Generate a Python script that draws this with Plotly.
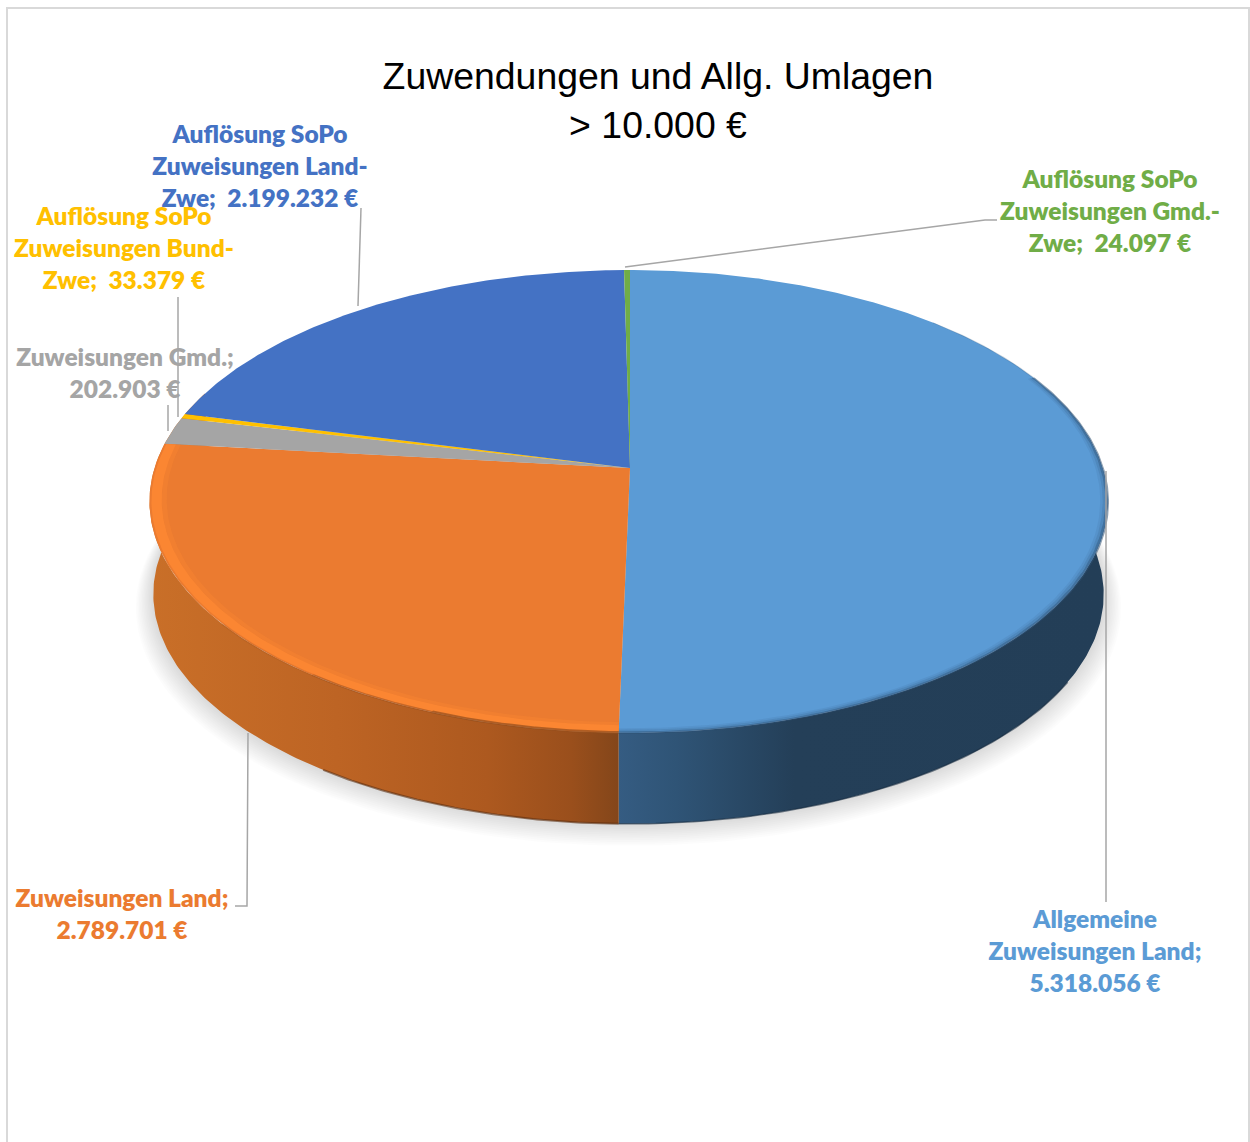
import numpy as np
import plotly.graph_objects as go

# ---- data ----
title_text = "Zuwendungen und Allg. Umlagen<br>> 10.000 €"
names = ["Allgemeine Zuweisungen Land", "Zuweisungen Land", "Zuweisungen Gmd.",
         "Auflösung SoPo Zuweisungen Bund-Zwe", "Auflösung SoPo Zuweisungen Land-Zwe",
         "Auflösung SoPo Zuweisungen Gmd.-Zwe"]
values = [5318056, 2789701, 202903, 33379, 2199232, 24097]
label_lines = [
    ["Allgemeine", "Zuweisungen Land;"],
    ["Zuweisungen Land;"],
    ["Zuweisungen Gmd.;"],
    ["Auflösung SoPo", "Zuweisungen Bund-", "Zwe;\u00a0"],
    ["Auflösung SoPo", "Zuweisungen Land-", "Zwe;\u00a0"],
    ["Auflösung SoPo", "Zuweisungen Gmd.-", "Zwe;\u00a0"],
]
colors = ["#5b9bd5", "#eb7b30", "#a5a5a5", "#ffc000", "#4472c4", "#70ad47"]

# ---- layout / projection settings ----
CX, CY, A, B, K = 630.0, 468.0, 474.0, -226.6, 0.1447
RIM_SHIFT = -1.5
DEPTH, BOTTOM_SCALE = 93.0, 0.992
label_pos = [(1095, 954), (122, 917), (125, 376), (124, 251), (260, 169), (1110, 214)]
leaders = [
    ([1106, 1106], [471, 902]),
    ([248, 247, 235], [733, 906, 906]),
    ([168, 168], [405, 431]),
    ([178, 178], [297, 417]),
    ([358, 361], [306, 208]),
    ([625, 985, 997], [267, 220, 220]),
]


def project(theta_deg, r=1.0, depth=0.0, scale=1.0):
    t = np.radians(np.asarray(theta_deg, dtype=float))
    x, y = r * np.sin(t), r * np.cos(t)
    d = 1 + K * y
    return CX + RIM_SHIFT * np.abs(x) + scale * A * x / d, CY + scale * B * y / d + depth


def arc(a0, a1, n=160, **kw):
    return project(np.linspace(a0, a1, n), **kw)


fig = go.Figure()


def poly(x, y, color=None, gradient=None, name=""):
    kw = dict(x=list(x), y=list(y), mode="lines", fill="toself", line=dict(width=0),
              hoverinfo="skip", showlegend=False, name=name)
    if gradient:
        kw["fillgradient"] = gradient
    else:
        kw["fillcolor"] = color
    fig.add_trace(go.Scatter(**kw))


def band(a0, a1, r0, r1, color):
    xo, yo = arc(a0, a1, r=r1)
    xi, yi = arc(a1, a0, r=r0)
    poly(np.r_[xo, xi], np.r_[yo, yi], color)


def wall(a0, a1, gradient):
    xt, yt = arc(a0, a1)
    xb, yb = arc(a1, a0, depth=DEPTH, scale=BOTTOM_SCALE)
    poly(np.r_[xt, xb], np.r_[yt, yb], gradient=gradient)


# slice angles, clockwise from twelve o'clock
total = sum(values)
edges = np.r_[0, np.cumsum(values)] / total * 360.0

# soft shadow under the pie
for i in range(12):
    x, y = arc(0, 360, n=240, r=1.003 + 0.003 * i, depth=DEPTH + 1 + 0.9 * i, scale=BOTTOM_SCALE)
    poly(x, y, "rgba(0,0,0,0.012)")

# side walls
wall(70, edges[1], dict(type="horizontal", start=618, stop=1107,
                        colorscale=[[0, "#355c82"], [0.12, "#2f5476"], [0.36, "#243f58"], [1, "#233e57"]]))
wall(edges[1], edges[2] + 14, dict(type="horizontal", start=150, stop=618,
                                   colorscale=[[0, "#c96f28"], [0.4, "#bd6424"], [0.72, "#ad591f"],
                                               [0.9, "#9a4f1c"], [1, "#84461a"]]))
xb, yb = arc(edges[1], 215, n=80, depth=DEPTH, scale=BOTTOM_SCALE)
fig.add_trace(go.Scatter(x=xb, y=yb, mode="lines", line=dict(color="rgba(90,45,15,0.6)", width=2),
                         hoverinfo="skip", showlegend=False))
xb, yb = arc(120, edges[1], n=80, depth=DEPTH, scale=BOTTOM_SCALE)
fig.add_trace(go.Scatter(x=xb, y=yb, mode="lines", line=dict(color="rgba(25,45,65,0.6)", width=1.5),
                         hoverinfo="skip", showlegend=False))

# top faces
for i, name in enumerate(names):
    xa, ya = arc(edges[i], edges[i + 1], n=max(8, int((edges[i + 1] - edges[i]) * 2)))
    poly(np.r_[CX, xa], np.r_[CY, ya], colors[i], name=name)

# bevel
band(edges[1], edges[2], 0.965, 0.975, "rgba(251,134,50,0.4)")
band(edges[1], edges[2], 0.975, 0.996, "#fb8632")
band(edges[1], edges[1] + 20, 0.994, 1.003, "rgba(150,80,30,0.7)")
band(edges[1] + 20, edges[1] + 35, 0.996, 1.003, "rgba(150,80,30,0.45)")
band(edges[1] + 35, edges[1] + 50, 0.998, 1.003, "rgba(150,80,30,0.2)")
band(65, edges[1], 0.985, 0.99, "rgba(45,80,115,0.10)")
band(65, edges[1], 0.99, 0.995, "rgba(45,80,115,0.25)")
band(65, edges[1], 0.995, 1.003, "rgba(45,80,115,0.55)")
band(45, 65, 0.998, 1.002, "rgba(45,80,115,0.25)")

# data labels
for i, (lines, (lx, ly)) in enumerate(zip(label_lines, label_pos)):
    value = f"{values[i]:,}".replace(",", ".") + " €"
    if lines[-1].startswith("Zwe"):
        text = "<br>".join(lines[:-1] + [lines[-1] + "\u00a0" + value])
    else:
        text = "<br>".join(lines + [value])
    fig.add_trace(go.Scatter(x=[lx], y=[ly], mode="text", text=[text], textposition="middle center",
                             textfont=dict(family="Lato", size=24.5, color=colors[i], weight=800),
                             name=names[i], showlegend=False,
                             hovertemplate=names[i] + ": " + value + "<extra></extra>"))

# leader lines
for lx, ly in leaders:
    fig.add_trace(go.Scatter(x=lx, y=ly, mode="lines", line=dict(color="#a6a6a6", width=1.5),
                             hoverinfo="skip", showlegend=False))

fig.update_layout(
    width=1250, height=1142, margin=dict(l=0, r=0, t=0, b=0),
    paper_bgcolor="white", plot_bgcolor="white", showlegend=False,
    title=dict(text=title_text, x=658 / 1250, xanchor="center", xref="paper",
               y=1 - 89 / 1142, yref="container", yanchor="middle",
               font=dict(family="Liberation Sans", size=37.4, color="#000000")),
    xaxis=dict(range=[0, 1250], visible=False, fixedrange=True),
    yaxis=dict(range=[1142, 0], visible=False, fixedrange=True),
    shapes=[dict(type="rect", x0=7, x1=1249, y0=8, y1=1160, xref="x", yref="y",
                 line=dict(color="#d9d9d9", width=2), layer="below")],
)
fig.write_html("out.html", config=dict(displayModeBar=False),
               post_script="document.body.style.margin='0';document.body.style.overflow='hidden';")
